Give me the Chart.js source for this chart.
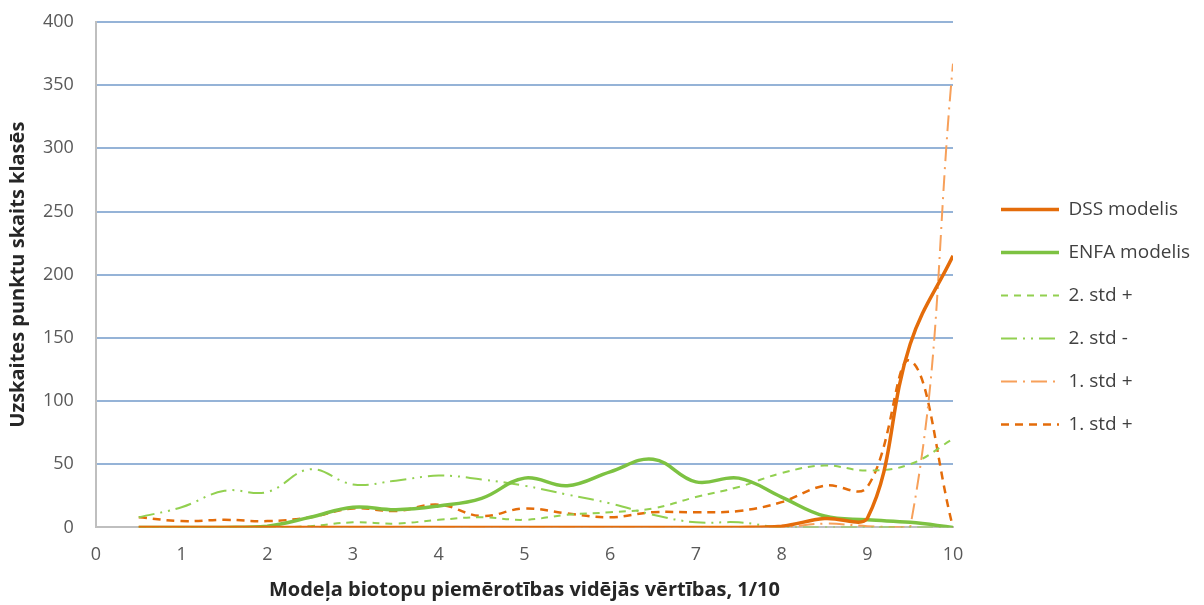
<!DOCTYPE html>
<html lang="lv">
  <head>
    <meta charset="UTF-8" />
    <title>Modeļu salīdzinājums</title>
    <style>
      body {
        margin: 0;
        padding: 0;
        background-color: #fff;
      }
      .chart-container {
        width: 1204px;
        height: 605px;
        position: relative;
      }
    </style>
  </head>
  <body>
    <div class="chart-container">
      <canvas id="modelChart"></canvas>
    </div>

    <script src="https://cdn.jsdelivr.net/npm/chart.js"></script>
    <script>
      // vidējās vērtības (x)
      const xValues = [0.5, 1, 1.5, 2, 2.5, 3, 3.5, 4, 4.5, 5, 5.5, 6, 6.5, 7, 7.5, 8, 8.5, 9, 9.5, 10];

      const dssModel = [0, 0, 0, 0, 0, 0, 0, 0, 0, 0, 0, 0, 0, 0, 0, 1, 7, 7, 145, 215];
      const enfaModel = [0, 0, 0, 1, 8, 16, 14, 17, 23, 39, 33, 44, 54, 36, 39, 24, 9, 6, 4, 0];
      const std2Plus = [0, 0, 0, 0, 1, 4, 3, 6, 8, 6, 10, 12, 15, 24, 32, 43, 49, 45, 50, 70];
      const std2Minus = [8, 16, 29, 28, 46, 34, 37, 41, 38, 33, 26, 19, 10, 4, 4, 0, 0, 0, 0, 0];
      const std1PlusA = [0, 0, 0, 0, 0, 0, 0, 0, 0, 0, 0, 0, 0, 0, 0, 0, 3, 1, 0, 367];
      const std1PlusB = [8, 5, 6, 5, 8, 15, 13, 18, 9, 15, 11, 8, 12, 12, 13, 20, 33, 32, 132, 0];

      const yTicks = [0, 50, 100, 150, 200, 250, 300, 350, 400];

      const toPoints = (values) => values.map((v, i) => ({ x: xValues[i], y: v }));

      const textColor = "#595959";
      const fontFamily = "'Open Sans', 'Liberation Sans', sans-serif";

      // legend sits a bit away from the plot, like the original
      const legendGap = {
        id: "legendGap",
        afterLayout(chart) {
          const lg = chart.legend;
          if (!lg) return;
          lg.left = 977;
          lg.right = lg.left + lg.width;
          lg.top += 16;
          lg.bottom += 16;
        },
      };

      document.addEventListener("DOMContentLoaded", function () {
        const ctx = document.getElementById("modelChart").getContext("2d");

        const datasets = [
          { label: "DSS modelis", data: toPoints(dssModel), borderColor: "#E46C0A", borderWidth: 3.5, borderDash: [] },
          { label: "ENFA modelis", data: toPoints(enfaModel), borderColor: "#7DC242", borderWidth: 3.5, borderDash: [] },
          { label: "2. std +", data: toPoints(std2Plus), borderColor: "#92D050", borderWidth: 2, borderDash: [7, 6] },
          { label: "2. std -", data: toPoints(std2Minus), borderColor: "#92D050", borderWidth: 2, borderDash: [16, 6, 2, 6, 2, 6] },
          { label: "1. std +", data: toPoints(std1PlusA), borderColor: "#F7A05A", borderWidth: 2, borderDash: [16, 6, 2, 6] },
          { label: "1. std +", data: toPoints(std1PlusB), borderColor: "#E46C0A", borderWidth: 2.5, borderDash: [8, 6] },
        ].map((ds) => ({
          ...ds,
          fill: false,
          tension: 0.4,
          pointRadius: 0,
          pointHoverRadius: 0,
        }));

        new Chart(ctx, {
          type: "line",
          data: { datasets: datasets },
          plugins: [legendGap],
          options: {
            responsive: true,
            maintainAspectRatio: false,
            animation: false,
            layout: {
              padding: { top: 0, left: 0, right: 0, bottom: 3 },
            },
            scales: {
              x: {
                type: "linear",
                min: 0,
                max: 10,
                grid: { display: false },
                border: { color: "#BFBFBF", width: 2 },
                ticks: {
                  stepSize: 1,
                  color: textColor,
                  padding: 9,
                  font: { family: fontFamily, size: 18 },
                },
                title: {
                  display: true,
                  text: "Modeļa biotopu piemērotības vidējās vērtības, 1/10",
                  color: "#262626",
                  font: { family: fontFamily, size: 20, weight: "bold" },
                  padding: { top: 3, bottom: 0 },
                },
                afterFit: (scale) => {
                  scale.paddingRight = 251;
                },
              },
              y: {
                min: 0,
                max: 400,
                afterBuildTicks: (scale) => {
                  scale.ticks = yTicks.map((v) => ({ value: v }));
                },
                afterFit: (scale) => {
                  scale.paddingTop = 22;
                },
                grid: {
                  color: "#95B3D7",
                  lineWidth: 2,
                  drawTicks: false,
                },
                border: { color: "#BFBFBF", width: 2 },
                ticks: {
                  color: textColor,
                  padding: 22,
                  font: { family: fontFamily, size: 18 },
                },
                title: {
                  display: true,
                  text: "Uzskaites punktu skaits klasēs",
                  color: "#262626",
                  font: { family: fontFamily, size: 20, weight: "bold" },
                  padding: { top: 6, bottom: -9 },
                },
              },
            },
            plugins: {
              tooltip: { enabled: false },
              legend: {
                position: "right",
                align: "center",
                labels: {
                  usePointStyle: true,
                  pointStyleWidth: 58,
                  padding: 24,
                  color: "#404040",
                  font: { family: fontFamily, size: 19 },
                  generateLabels: (chart) =>
                    chart.data.datasets.map((ds, i) => ({
                      text: ds.label,
                      strokeStyle: ds.borderColor,
                      fillStyle: ds.borderColor,
                      lineWidth: ds.borderWidth,
                      lineDash: ds.borderDash,
                      pointStyle: "line",
                      fontColor: "#404040",
                      hidden: !chart.isDatasetVisible(i),
                      datasetIndex: i,
                    })),
                },
              },
            },
          },
        });
      });
    </script>
  </body>
</html>
